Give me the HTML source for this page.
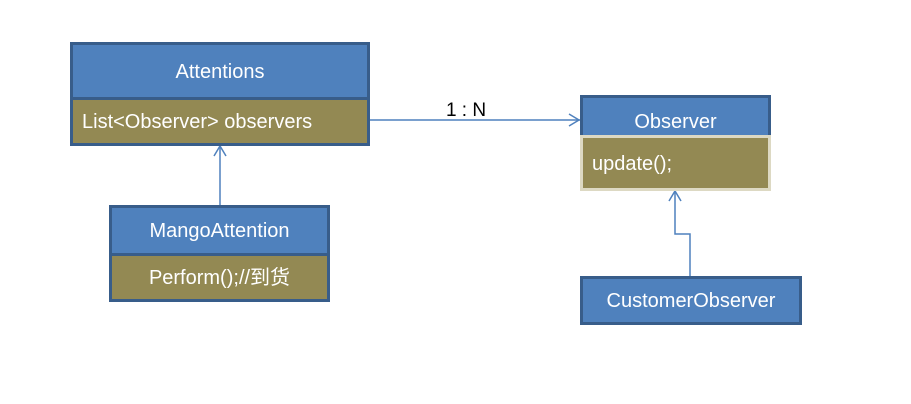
<!DOCTYPE html>
<html><head><style>
body{margin:0;width:911px;height:404px;background:#fff;position:relative;overflow:hidden;font-family:"Liberation Sans","Noto Sans CJK SC",sans-serif;}
.b{position:absolute;box-sizing:border-box;color:#fff;font-size:20px;}
.h{background:#4f81bd;border:3px solid #385d8a;text-align:center;}
.o{background:#938953;border:3px solid #385d8a;}
</style></head><body>
<svg width="911" height="404" style="position:absolute;left:0;top:0">
<g stroke="#4f81bd" stroke-width="1.5" fill="none">
<line x1="369" y1="120" x2="580" y2="120"/>
<polyline points="569,114 579,120 569,126"/>
<line x1="220" y1="206" x2="220" y2="146"/>
<polyline points="214,156 220,146 226,156"/>
<polyline points="690,276 690,234 675,234 675,191"/>
<polyline points="669,201 675,191 681,201"/>
</g>
<text x="466" y="116" font-family="Liberation Sans" font-size="19" text-anchor="middle" fill="#000">1 : N</text>
</svg>
<div class="b h" style="left:70px;top:42px;width:300px;height:58px;line-height:54px;">Attentions</div>
<div class="b o" style="left:70px;top:97px;width:300px;height:49px;line-height:44px;padding-left:9px;">List&lt;Observer&gt; observers</div>
<div class="b h" style="left:109px;top:205px;width:221px;height:51px;line-height:47px;">MangoAttention</div>
<div class="b o" style="left:109px;top:253px;width:221px;height:49px;line-height:45px;text-align:center;">Perform();//到货</div>
<div class="b h" style="left:580px;top:95px;width:191px;height:43px;line-height:48px;">Observer</div>
<div class="b o" style="left:580px;top:135px;width:191px;height:56px;line-height:52px;padding-left:9px;border-color:#ddd9c3;">update();</div>
<div class="b h" style="left:580px;top:276px;width:222px;height:49px;line-height:45px;">CustomerObserver</div>
</body></html>
